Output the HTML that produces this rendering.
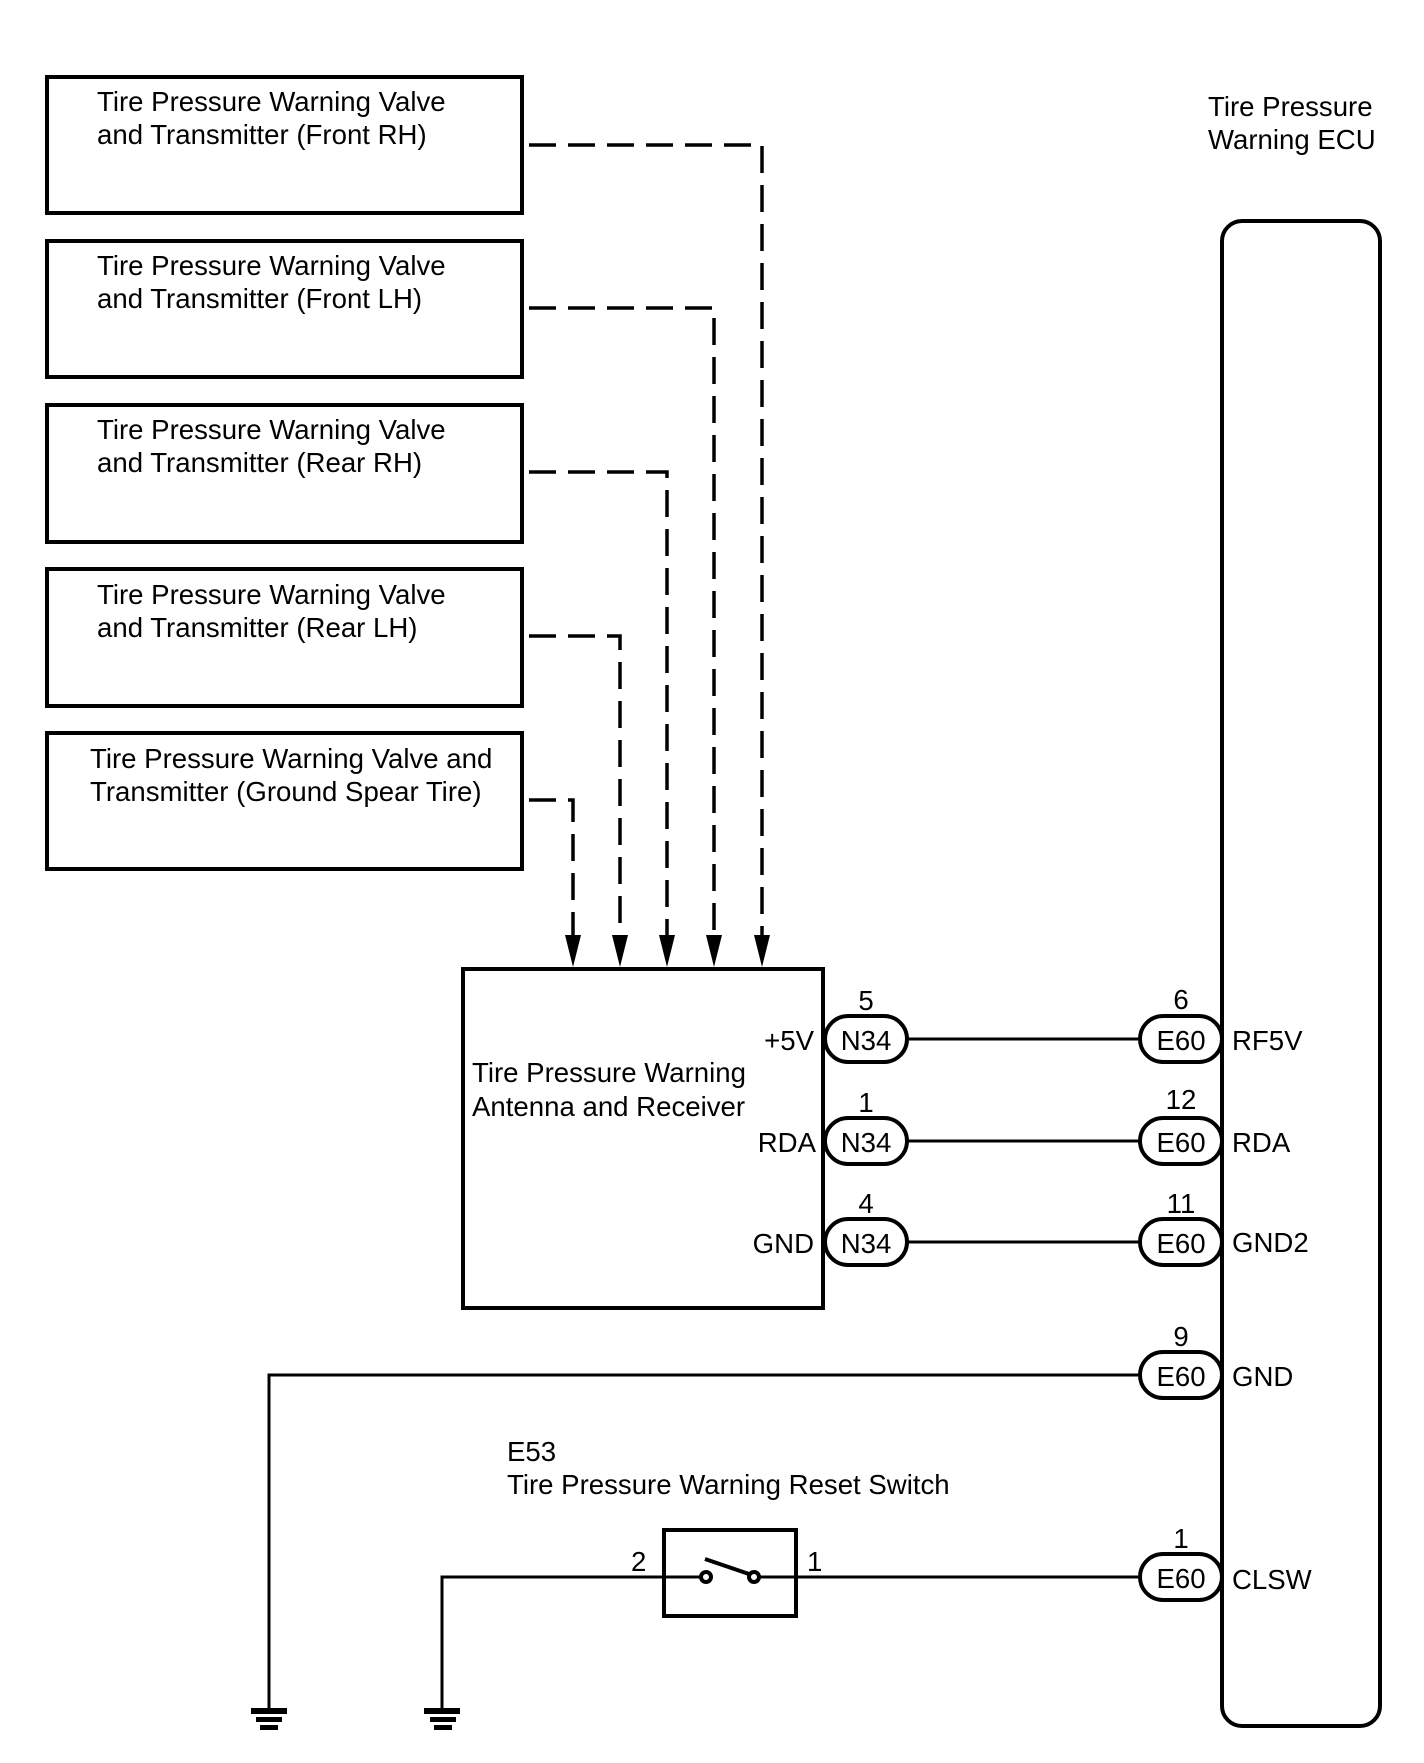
<!DOCTYPE html>
<html><head><meta charset="utf-8"><style>
html,body{margin:0;padding:0;background:#fff}
svg{display:block}
text{font-family:"Liberation Sans",Arial,sans-serif;font-size:27.6px;fill:#000}
</style></head><body>
<svg width="1424" height="1763" viewBox="0 0 1424 1763" xmlns="http://www.w3.org/2000/svg">
<g fill="none" stroke="#000" stroke-width="4">
<rect x="47" y="77" width="475" height="136"/>
<rect x="47" y="241" width="475" height="136"/>
<rect x="47" y="405" width="475" height="137"/>
<rect x="47" y="569" width="475" height="137"/>
<rect x="47" y="733" width="475" height="136"/>
<rect x="463" y="969" width="360" height="339"/>
<rect x="1222" y="221" width="158" height="1505" rx="20"/>
<rect x="664" y="1530" width="132" height="86"/>
</g>
<g fill="none" stroke="#000" stroke-width="3.5" stroke-dasharray="27,12">
<polyline points="529,145 762,145 762,935"/>
<polyline points="529,308 714,308 714,935"/>
<polyline points="529,472 667,472 667,935"/>
<polyline points="529,636 620,636 620,935"/>
<polyline points="529,800 573,800 573,935"/>
</g>
<g fill="#000">
<polygon points="565,935 581,935 573,967"/>
<polygon points="612,935 628,935 620,967"/>
<polygon points="659,935 675,935 667,967"/>
<polygon points="706,935 722,935 714,967"/>
<polygon points="754,935 770,935 762,967"/>
</g>
<g fill="none" stroke="#000" stroke-width="3">
<line x1="907" y1="1039" x2="1140" y2="1039"/>
<line x1="907" y1="1141" x2="1140" y2="1141"/>
<line x1="907" y1="1242" x2="1140" y2="1242"/>
<polyline points="1140,1375 269,1375 269,1711"/>
<polyline points="664,1577 442,1577 442,1711"/>
<line x1="796" y1="1577" x2="1140" y2="1577"/>
<line x1="664" y1="1577" x2="701" y2="1577"/>
<line x1="759" y1="1577" x2="796" y2="1577"/>
</g>
<g fill="#fff" stroke="#000" stroke-width="4">
<rect x="825" y="1016" width="82" height="46" rx="23"/>
<rect x="825" y="1118" width="82" height="46" rx="23"/>
<rect x="825" y="1219" width="82" height="46" rx="23"/>
<rect x="1140" y="1016" width="82" height="46" rx="23"/>
<rect x="1140" y="1118" width="82" height="46" rx="23"/>
<rect x="1140" y="1219" width="82" height="46" rx="23"/>
<rect x="1140" y="1352" width="82" height="46" rx="23"/>
<rect x="1140" y="1554" width="82" height="46" rx="23"/>
</g>
<g stroke="#000" stroke-width="4" fill="#fff">
<circle cx="706" cy="1577" r="5"/>
<circle cx="754" cy="1577" r="5"/>
<line x1="705" y1="1559" x2="749" y2="1574"/>
</g>
<g fill="#000">
<rect x="251" y="1708" width="36" height="6"/><rect x="256" y="1717" width="26" height="5"/><rect x="260" y="1725" width="18" height="5"/>
<rect x="424" y="1708" width="36" height="6"/><rect x="430" y="1717" width="26" height="5"/><rect x="434" y="1725" width="18" height="5"/>
</g>
<text x="97" y="111">Tire Pressure Warning Valve</text>
<text x="97" y="144">and Transmitter (Front RH)</text>
<text x="97" y="275">Tire Pressure Warning Valve</text>
<text x="97" y="308">and Transmitter (Front LH)</text>
<text x="97" y="439">Tire Pressure Warning Valve</text>
<text x="97" y="472">and Transmitter (Rear RH)</text>
<text x="97" y="604">Tire Pressure Warning Valve</text>
<text x="97" y="637">and Transmitter (Rear LH)</text>
<text x="90" y="768">Tire Pressure Warning Valve and</text>
<text x="90" y="801">Transmitter (Ground Spear Tire)</text>
<text x="1208" y="116">Tire Pressure</text>
<text x="1208" y="149">Warning ECU</text>
<text x="472" y="1082">Tire Pressure Warning</text>
<text x="472" y="1116">Antenna and Receiver</text>
<g text-anchor="end">
<text x="814" y="1050">+5V</text>
<text x="816" y="1152">RDA</text>
<text x="814" y="1253">GND</text>
</g>
<g text-anchor="middle">
<text x="866" y="1050">N34</text>
<text x="866" y="1152">N34</text>
<text x="866" y="1253">N34</text>
<text x="1181" y="1050">E60</text>
<text x="1181" y="1152">E60</text>
<text x="1181" y="1253">E60</text>
<text x="1181" y="1386">E60</text>
<text x="1181" y="1588">E60</text>
<text x="866" y="1010">5</text>
<text x="866" y="1112">1</text>
<text x="866" y="1213">4</text>
<text x="1181" y="1009">6</text>
<text x="1181" y="1109">12</text>
<text x="1181" y="1213">11</text>
<text x="1181" y="1346">9</text>
<text x="1181" y="1548">1</text>
</g>
<text x="1232" y="1050">RF5V</text>
<text x="1232" y="1152">RDA</text>
<text x="1232" y="1252">GND2</text>
<text x="1232" y="1386">GND</text>
<text x="1232" y="1589">CLSW</text>
<text x="507" y="1461">E53</text>
<text x="507" y="1494">Tire Pressure Warning Reset Switch</text>
<text x="631" y="1571">2</text>
<text x="807" y="1571">1</text>
</svg>
</body></html>
